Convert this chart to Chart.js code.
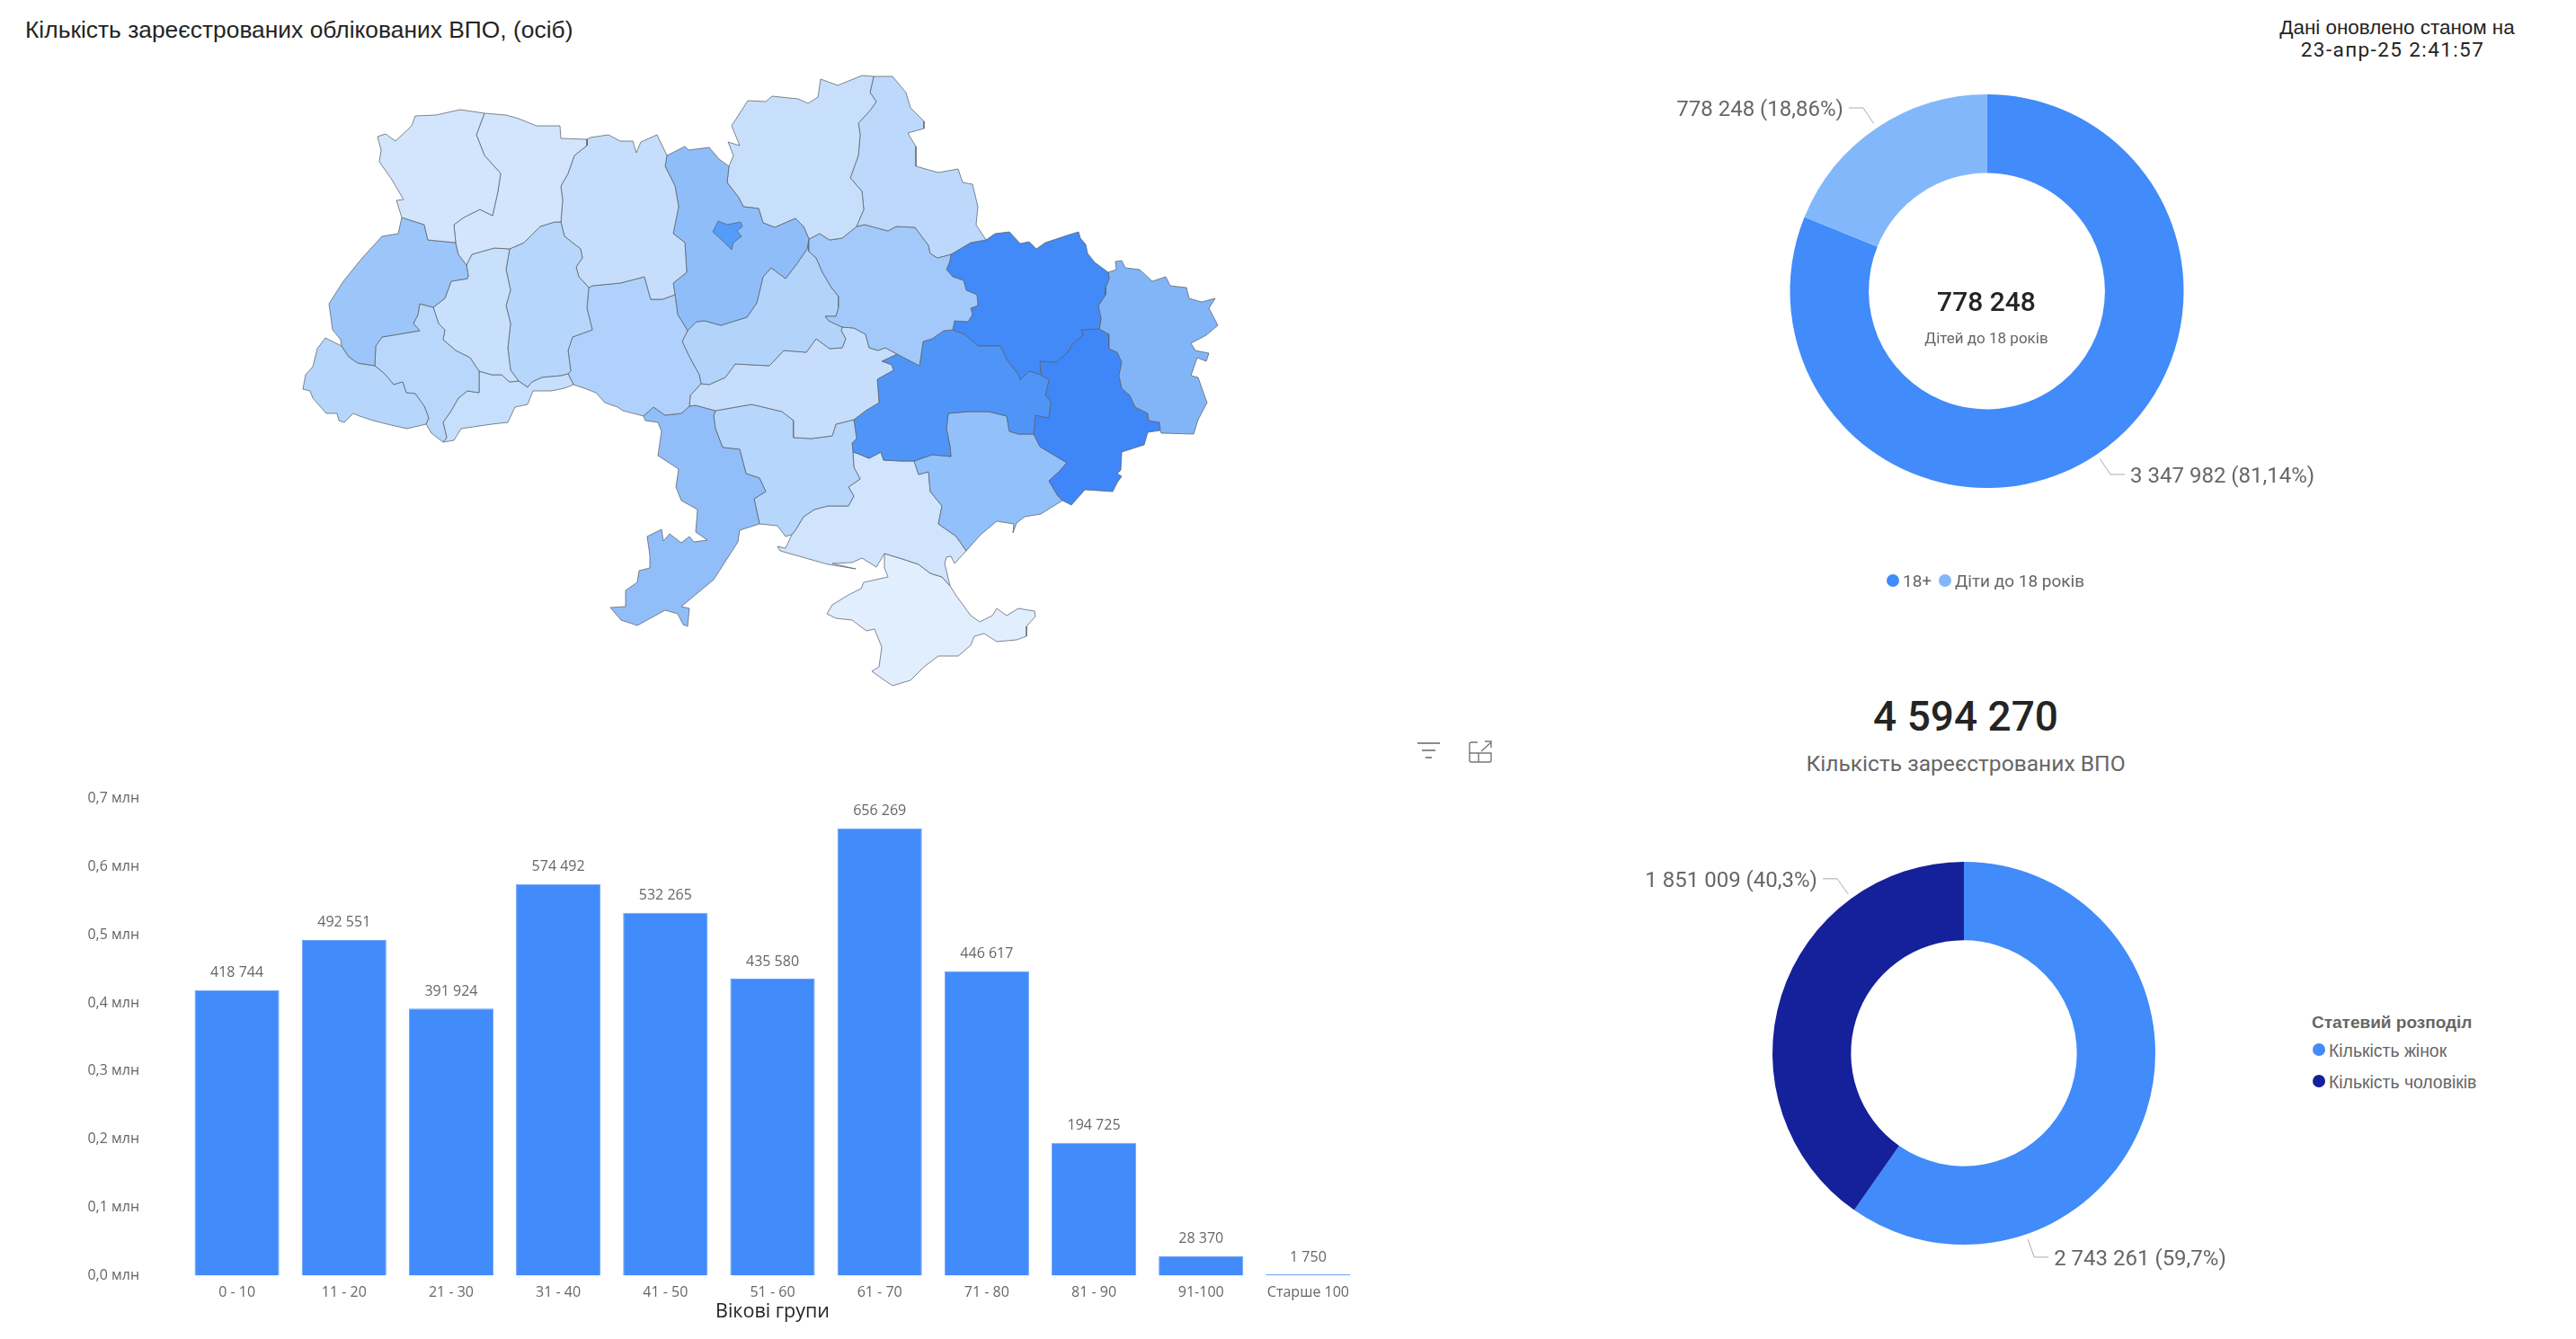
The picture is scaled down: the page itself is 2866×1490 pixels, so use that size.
<!DOCTYPE html>
<html lang="uk">
<head>
<meta charset="utf-8">
<title>Кількість зареєстрованих облікованих ВПО</title>
<script src="https://cdn.jsdelivr.net/npm/chart.js@4"></script>
<style>
  html, body { margin: 0; padding: 0; background: #fff; }
  body { position: relative; width: 2866px; height: 1490px; overflow: hidden; font-family: Roboto, sans-serif; color: #666; }
  canvas { position: absolute; }
  .txt { position: absolute; white-space: nowrap; line-height: 1; }
  .mid { transform: translate(-50%, -50%); }
  .left { transform: translateY(-50%); }
  .dot { position: absolute; width: 14px; height: 14px; border-radius: 50%; transform: translate(-50%, -50%); }
  svg { position: absolute; }
</style>
</head>
<body>
<div class="txt left" style="left:28px;top:33px;font:26.4px 'Liberation Sans';color:#252423">Кількість зареєстрованих облікованих ВПО, (осіб)</div>
<div class="txt mid" style="left:2667px;top:31px;font:22.4px 'Liberation Sans';color:#252423">Дані оновлено станом на</div>
<div class="txt mid" style="left:2662px;top:55px;font:22.5px Roboto;letter-spacing:1.4px;color:#252423">23-апр-25 2:41:57</div>

<canvas id="map" style="left:320px;top:60px"></canvas>
<canvas id="bars" style="left:60px;top:830px"></canvas>
<canvas id="ageDonut" style="left:1840px;top:60px"></canvas>
<canvas id="sexDonut" style="left:1800px;top:900px"></canvas>

<div class="txt mid" style="left:2210px;top:335px;font:500 30px Roboto;color:#252423">778 248</div>
<div class="txt mid" style="left:2210px;top:376px;font:17px Roboto;color:#666">Дітей до 18 років</div>
<span class="dot" style="left:2106px;top:646px;background:#418bfa"></span>
<div class="txt left" style="left:2117px;top:646px;font:19px Roboto">18+</div>
<span class="dot" style="left:2164px;top:646px;background:#82b8fb"></span>
<div class="txt left" style="left:2175px;top:646px;font:19px Roboto">Діти до 18 років</div>

<div class="txt mid" style="left:2187px;top:797px;font:500 46px Roboto;color:#252423">4 594 270</div>
<div class="txt mid" style="left:2187px;top:849px;font:24.6px Roboto;color:#666">Кількість зареєстрованих ВПО</div>

<svg style="left:1575px;top:824px" width="30" height="24" fill="none" stroke="#666" stroke-width="1.6">
  <path d="M2 3H27M7 11H22M11 19H18"/>
</svg>
<svg style="left:1633px;top:823px" width="28" height="28" fill="none" stroke="#777" stroke-width="1.4">
  <path d="M11 3H4a2 2 0 0 0-2 2v18a2 2 0 0 0 2 2h20a2 2 0 0 0 2-2V15H2M12 25V15M15 13 26 3M19 2h7v7"/>
</svg>

<div class="txt left" style="left:2572px;top:1138px;font:bold 19px 'Liberation Sans'">Статевий розподіл</div>
<span class="dot" style="left:2580px;top:1168px;background:#418bfa"></span>
<div class="txt left" style="left:2591px;top:1169px;font:19.4px 'Liberation Sans'">Кількість жінок</div>
<span class="dot" style="left:2580px;top:1203px;background:#15219a"></span>
<div class="txt left" style="left:2591px;top:1204px;font:19.4px 'Liberation Sans'">Кількість чоловіків</div>

<script>
// age chart
const ageGroups = ['0 - 10', '11 - 20', '21 - 30', '31 - 40', '41 - 50', '51 - 60', '61 - 70', '71 - 80', '81 - 90', '91-100', 'Старше 100'];
const ageCounts = [418744, 492551, 391924, 574492, 532265, 435580, 656269, 446617, 194725, 28370, 1750];
const ageTicks = ['0,0 млн', '0,1 млн', '0,2 млн', '0,3 млн', '0,4 млн', '0,5 млн', '0,6 млн', '0,7 млн'];

// donuts
const ageSplitLabels = ['18+', 'Діти до 18 років'];
const ageSplitValues = [3347982, 778248];
const ageSplitText = ['3 347 982 (81,14%)', '778 248 (18,86%)'];
const sexLabels = ['Кількість жінок', 'Кількість чоловіків'];
const sexValues = [2743261, 1851009];
const sexText = ['2 743 261 (59,7%)', '1 851 009 (40,3%)'];

// map borders, each one shared by the two oblasts it separates
const volynRivne = [[539,126],[530,150],[539,173],[557,193],[554,213],[548,240],[534,233],[516,242],[505,250],[507,270]];
const volynLviv = [[507,270],[476,267],[472,250],[447,242]];
const volynOuter = [[447,242],[441,223],[449,222],[436,200],[422,180],[424,167],[420,152],[429,149],[440,157],[458,140],[462,129],[485,128],[512,122],[539,126]];
const rivneNorth = [[539,126],[563,128],[577,132],[597,140],[623,140],[624,154],[653,155]];
const rivneZhyt = [[653,155],[653,162],[639,173],[632,193],[624,207],[626,223],[624,247]];
const rivneKhm = [[624,247],[617,247],[601,252],[583,270],[567,277]];
const rivneTern = [[567,277],[550,276],[525,283],[519,295]];
const rivneLviv = [[519,295],[510,283],[507,270]];
const lvivWest = [[447,242],[443,260],[425,263],[403,287],[382,313],[366,338],[370,367],[379,378],[380,385]];
const lvivZak = [[380,385],[388,397],[398,404],[417,407]];
const lvivIF = [[417,407],[418,385],[425,375],[443,372],[467,368],[460,360],[465,350],[467,338],[482,342]];
const lvivTern = [[482,342],[495,332],[502,313],[520,310],[521,307],[519,295]];
const zakIF = [[417,407],[427,415],[438,428],[448,425],[452,437],[462,438],[472,452],[477,465],[474,472]];
const zakOuter = [[474,472],[453,477],[435,473],[415,468],[400,463],[393,460],[383,470],[377,468],[375,460],[363,460],[348,443],[345,435],[337,433],[340,417],[348,408],[353,388],[362,376],[380,385]];
const ifOuter = [[474,472],[480,482],[493,492]];
const ifChern = [[493,492],[497,487],[493,470],[502,457],[510,443],[520,435],[533,437],[533,413]];
const ifTern = [[533,413],[523,398],[507,390],[493,378],[495,367],[488,360],[482,342]];
const ternChern = [[533,413],[547,417],[558,417],[567,425],[577,424]];
const ternKhm = [[577,424],[568,412],[565,387],[568,360],[563,340],[568,323],[563,300],[567,277]];
const chernKhm = [[577,424],[587,431],[592,425],[603,420],[625,418],[632,416]];
const chernOuter = [[632,416],[638,428],[628,432],[613,435],[593,435],[587,450],[573,453],[565,470],[547,472],[513,477],[505,490],[493,492]];
const khmVinn = [[632,416],[635,413],[632,390],[637,375],[659,367],[653,343],[655,320]];
const khmZhyt = [[655,320],[644,308],[641,297],[648,287],[646,277],[628,263],[624,247]];
const zhytVinn = [[655,320],[659,318],[690,315],[717,308],[724,333],[737,333],[751,328]];
const zhytKyiv = [[751,328],[749,315],[764,303],[762,270],[749,260],[755,230],[751,207],[740,185],[742,173]];
const zhytNorth = [[742,173],[731,150],[713,158],[708,170],[704,157],[690,157],[677,150],[657,153],[653,155]];
const kyivVinn = [[765,368],[754,350],[751,328]];
const kyivNorth = [[742,173],[762,163],[766,167],[789,164],[800,177],[811,185]];
const kyivChernihiv = [[811,185],[809,203],[822,220],[827,230],[844,232],[849,248],[862,253],[885,243],[894,252],[900,266]];
const kyivCherk = [[900,266],[898,277],[887,293],[874,310],[858,298],[849,308],[842,337],[831,353],[802,362],[784,357],[775,358],[765,368]];
const chernihivOuter = [[811,185],[816,173],[810,158],[823,162],[814,140],[832,112],[852,113],[859,107],[888,110],[899,115],[910,108],[913,88],[932,95],[959,84],[972,85]];
const chernihivSumy = [[972,85],[968,103],[975,113],[968,123],[955,137],[957,150],[955,173],[946,198],[959,213],[961,233],[953,252]];
const chernihivPoltava = [[953,252],[937,265],[923,267],[912,260],[900,266]];
const sumyOuter = [[972,85],[993,85],[1008,103],[1013,120],[1028,135],[1028,143],[1010,148],[1019,163],[1019,185],[1044,192],[1066,188],[1071,203],[1082,205],[1088,230],[1086,250],[1097,267]];
const sumyKharkiv = [[1097,267],[1080,270],[1058,283]];
const sumyPoltava = [[1058,283],[1043,287],[1035,282],[1033,273],[1018,253],[997,252],[988,257],[962,250],[953,252]];
const poltavaKharkiv = [[1058,283],[1057,290],[1053,300],[1060,308],[1072,312],[1075,323],[1087,328],[1088,340],[1080,343],[1082,350],[1077,358],[1062,357],[1060,367]];
const poltavaDnipro = [[1060,367],[1050,368],[1037,377],[1027,380],[1023,407],[998,394]];
const poltavaKirov = [[998,394],[985,387],[977,390],[967,387],[963,372],[950,365],[937,364]];
const poltavaCherk = [[937,364],[922,357],[918,352],[930,352],[933,342],[933,330],[925,320],[915,303],[908,287],[900,280],[900,266]];
const cherkKirov = [[937,364],[936,368],[941,377],[937,387],[923,388],[908,377],[897,392],[872,390],[856,407],[818,405],[807,420],[789,428],[780,427]];
const cherkVinn = [[780,427],[778,417],[767,397],[759,380],[765,368]];
const vinnKirov = [[780,427],[768,440],[767,452]];
const vinnOdesa = [[767,452],[758,460],[740,462],[727,453],[716,463]];
const vinnOuter = [[716,463],[693,457],[687,453],[673,448],[663,437],[650,432],[638,428],[632,416]];
const kirovOdesa = [[767,452],[774,451],[796,457]];
const kirovMyk = [[796,457],[819,453],[836,450],[845,452],[870,458],[883,468],[883,487],[903,488],[926,485],[930,472],[950,467]];
const kirovDnipro = [[950,467],[963,457],[978,448],[976,422],[994,412],[992,406],[981,402],[998,394]];
const odesaMyk = [[796,457],[794,463],[796,477],[804,498],[823,500],[830,527],[845,532],[852,547],[839,555],[845,583]];
const odesaCoast = [[845,583],[823,590],[821,603],[794,645],[758,675],[767,677],[765,697],[760,695],[754,683],[740,679],[720,690],[709,696],[691,690],[679,676],[696,675],[696,657],[709,648],[711,635],[723,632],[723,618],[720,597],[736,589],[738,602],[745,594],[758,604],[767,597],[772,603],[787,601],[774,592],[776,567],[758,557],[752,542],[755,522],[732,507],[736,480],[732,470],[718,468],[716,463]];
const mykDnipro = [[950,467],[953,488],[948,493],[949,503]];
const mykKherson = [[949,503],[950,520],[957,533],[944,542],[950,552],[944,563],[921,563],[906,567],[894,575],[885,590],[881,595]];
const mykCoast = [[881,595],[874,597],[865,585],[845,583]];
const dniproKherson = [[949,503],[955,505],[967,510],[980,503],[983,512],[1003,513],[1017,513]];
const dniproZap = [[1017,513],[1037,506],[1058,508],[1057,497],[1053,477],[1055,460],[1077,458],[1100,458],[1120,463],[1123,480],[1133,483],[1150,483]];
const dniproDonetsk = [[1150,483],[1152,462],[1167,465],[1169,447],[1163,440],[1167,423],[1158,417]];
const dniproKharkiv = [[1158,417],[1145,413],[1135,423],[1133,417],[1120,400],[1113,385],[1088,385],[1073,372],[1060,367]];
const kharkivDonetsk = [[1223,366],[1203,367],[1205,373],[1193,383],[1187,393],[1175,403],[1157,402],[1158,417]];
const kharkivOuter = [[1097,267],[1107,260],[1123,258],[1135,271],[1145,269],[1153,277],[1163,270],[1187,262],[1200,258],[1202,265],[1208,272],[1210,282],[1218,292],[1233,303]];
const kharkivLuhansk = [[1233,303],[1234,310],[1230,320],[1230,328],[1222,340],[1225,355],[1223,366]];
const luhanskOuter = [[1233,303],[1242,300],[1241,291],[1248,290],[1252,298],[1268,300],[1282,313],[1297,308],[1302,318],[1320,320],[1323,332],[1337,336],[1352,332],[1345,343],[1355,362],[1342,373],[1325,382],[1330,390],[1345,393],[1342,402],[1332,398],[1325,418],[1333,420],[1340,440],[1343,448],[1333,467],[1328,483],[1292,482],[1291,479]];
const luhanskDonetsk = [[1291,479],[1290,470],[1278,468],[1277,460],[1263,453],[1257,440],[1248,432],[1245,418],[1248,403],[1243,392],[1234,388],[1234,372],[1223,366]];
const donetskOuter = [[1291,479],[1277,481],[1273,495],[1248,503],[1247,523],[1243,527],[1248,530],[1243,537],[1238,547],[1207,545],[1192,562],[1182,557]];
const donetskZap = [[1182,557],[1177,552],[1167,535],[1178,525],[1187,515],[1167,503],[1157,497],[1150,483]];
const zapCoast = [[1182,557],[1158,572],[1140,575],[1131,582],[1127,593],[1128,583],[1109,580],[1091,595],[1075,613]];
const zapKherson = [[1075,613],[1064,597],[1044,583],[1048,563],[1035,547],[1033,525],[1022,528],[1017,513]];
const khersonEast = [[1075,613],[1062,627],[1058,619],[1053,620],[1051,627],[1057,652]];
const crimeaNorth = [[1057,652],[1048,642],[1035,638],[1022,628],[1004,622],[984,616]];
const khersonWest = [[984,616],[975,631],[959,621],[948,626],[926,627],[952,633],[921,628],[868,613],[865,608],[874,610],[881,595]];
const crimeaCoast = [[1057,652],[1064,663],[1080,685],[1090,692],[1104,685],[1109,677],[1120,685],[1133,677],[1151,680],[1152,686],[1142,697],[1142,708],[1131,712],[1109,714],[1095,705],[1084,708],[1080,718],[1066,730],[1044,730],[1028,742],[1013,757],[993,763],[984,757],[970,747],[978,742],[981,720],[973,700],[964,702],[948,690],[930,688],[920,683],[926,673],[944,662],[958,655],[961,648],[988,642],[984,632],[984,616]];
const kyivCity = [[793,258],[799,246],[809,250],[824,247],[826,252],[820,257],[825,263],[816,270],[814,278],[804,268],[793,258]];

const back = arc => [...arc].reverse();
const ring = (...arcs) => arcs.flat();

const regionNames = ['Київ', 'Волинська', 'Рівненська', 'Львівська', 'Закарпатська', 'Івано-Франківська', 'Тернопільська', 'Чернівецька', 'Хмельницька', 'Житомирська', 'Вінницька', 'Київська', 'Чернігівська', 'Сумська', 'Полтавська', 'Черкаська', 'Кіровоградська', 'Одеська', 'Миколаївська', 'Дніпропетровська', 'Харківська', 'Луганська', 'Донецька', 'Запорізька', 'Херсонська', 'Крим'];
const regionOutlines = [
  kyivCity,
  ring(volynRivne, volynLviv, volynOuter),
  ring(rivneNorth, rivneZhyt, rivneKhm, rivneTern, rivneLviv, back(volynRivne)),
  ring(lvivWest, lvivZak, lvivIF, lvivTern, rivneLviv, volynLviv),
  ring(zakIF, zakOuter, lvivZak),
  ring(back(lvivIF), zakIF, ifOuter, ifChern, ifTern),
  ring(back(lvivTern), back(ifTern), ternChern, ternKhm, rivneTern),
  ring(ternChern, chernKhm, chernOuter, ifChern),
  ring(back(ternKhm), chernKhm, khmVinn, khmZhyt, rivneKhm),
  ring(zhytNorth, rivneZhyt, back(khmZhyt), zhytVinn, zhytKyiv),
  ring(zhytVinn, back(kyivVinn), back(cherkVinn), vinnKirov, vinnOdesa, vinnOuter, khmVinn),
  ring(kyivNorth, kyivChernihiv, kyivCherk, kyivVinn, zhytKyiv),
  ring(chernihivOuter, chernihivSumy, chernihivPoltava, back(kyivChernihiv)),
  ring(sumyOuter, sumyKharkiv, sumyPoltava, back(chernihivSumy)),
  ring(back(chernihivPoltava), back(sumyPoltava), poltavaKharkiv, poltavaDnipro, poltavaKirov, poltavaCherk),
  ring(back(kyivCherk), back(poltavaCherk), cherkKirov, cherkVinn),
  ring(back(cherkKirov), back(poltavaKirov), back(kirovDnipro), back(kirovMyk), back(kirovOdesa), back(vinnKirov)),
  ring(kirovOdesa, odesaMyk, odesaCoast, back(vinnOdesa)),
  ring(kirovMyk, mykDnipro, mykKherson, mykCoast, back(odesaMyk)),
  ring(kirovDnipro, back(poltavaDnipro), back(dniproKharkiv), back(dniproDonetsk), back(dniproZap), back(dniproKherson), back(mykDnipro)),
  ring(kharkivOuter, kharkivLuhansk, kharkivDonetsk, dniproKharkiv, back(poltavaKharkiv), back(sumyKharkiv)),
  ring(luhanskOuter, luhanskDonetsk, back(kharkivLuhansk)),
  ring(back(kharkivDonetsk), back(luhanskDonetsk), donetskOuter, donetskZap, dniproDonetsk),
  ring(dniproZap, back(donetskZap), zapCoast, zapKherson),
  ring(dniproKherson, back(zapKherson), khersonEast, crimeaNorth, khersonWest, back(mykKherson)),
  ring(crimeaCoast, back(crimeaNorth))
];
const regionColors = ['#559bf9', '#d2e5fd', '#d2e5fd', '#9cc6f9', '#b6d6fb', '#b9d7fb', '#c9e0fc', '#c6dffc', '#b6d6fb', '#c6defb', '#afd1fb', '#8fbdf9', '#c8dffc', '#bcd9fc', '#a2c9f9', '#b2d4fb', '#c6defc', '#91bef9', '#b6d6fb', '#4e95f7', '#418af8', '#82b5f7', '#3f87f8', '#92c0fa', '#d0e4fe', '#e1eefe'];

Chart.defaults.animation = false;
Chart.defaults.responsive = false;
Chart.defaults.plugins.legend.display = false;
Chart.defaults.plugins.tooltip.enabled = false;

function sized(id, w, h) {
  const c = document.getElementById(id);
  c.width = w; c.height = h;
  c.style.width = w + 'px'; c.style.height = h + 'px';
  return c.getContext('2d');
}

// line datasets only stroke, so the polygon fill goes in under each one
const fillRegions = {
  id: 'fillRegions',
  beforeDatasetDraw(chart, args) {
    const pts = chart.getDatasetMeta(args.index).data;
    const ctx = chart.ctx;
    ctx.save();
    ctx.beginPath();
    pts.forEach((p, i) => i ? ctx.lineTo(p.x, p.y) : ctx.moveTo(p.x, p.y));
    ctx.closePath();
    ctx.fillStyle = chart.data.datasets[args.index].backgroundColor;
    ctx.fill();
    ctx.restore();
  }
};

new Chart(sized('map', 1060, 740), {
  type: 'scatter',
  data: {
    datasets: regionOutlines.map((outline, i) => ({
      label: regionNames[i],
      data: outline.map(([x, y]) => ({ x, y })),
      showLine: true,
      tension: 0,
      pointRadius: 0,
      borderWidth: 1,
      borderColor: 'rgba(90,96,106,0.75)',
      backgroundColor: regionColors[i]
    }))
  },
  options: {
    layout: { padding: 0 },
    scales: {
      x: { type: 'linear', display: false, min: 320, max: 1380 },
      y: { type: 'linear', display: false, min: 60, max: 800, reverse: true }
    }
  },
  plugins: [fillRegions]
});

const barValueLabels = {
  id: 'barValueLabels',
  afterDatasetsDraw(chart) {
    const ctx = chart.ctx;
    ctx.save();
    ctx.font = '16px "Open Sans"';
    ctx.fillStyle = '#666';
    ctx.textAlign = 'center';
    ctx.textBaseline = 'middle';
    chart.getDatasetMeta(0).data.forEach((bar, i) => {
      const text = String(ageCounts[i]).replace(/\B(?=(\d{3})+$)/g, ' ');
      ctx.fillText(text, bar.x, bar.y - 19);
    });
    ctx.restore();
  }
};

new Chart(sized('bars', 1500, 648), {
  type: 'bar',
  data: {
    labels: ageGroups,
    datasets: [{
      label: 'Кількість',
      data: ageCounts,
      backgroundColor: '#418bfa',
      borderColor: '#6ea3fa',
      borderWidth: 1,
      categoryPercentage: 1,
      barPercentage: 0.79
    }]
  },
  options: {
    layout: { padding: { top: 0, right: 45, bottom: 0, left: 0 } },
    scales: {
      x: {
        grid: { display: false, drawTicks: false },
        border: { display: false },
        ticks: { color: '#666', font: { family: 'Open Sans', size: 16 }, padding: 9, maxRotation: 0, autoSkip: false },
        title: { display: true, text: 'Вікові групи', color: '#252423', font: { family: 'Open Sans', size: 21.5 }, padding: 0 },
        afterFit: s => { s.height = 53; }
      },
      y: {
        min: 0,
        max: 700000,
        grid: { display: false, drawTicks: false },
        border: { display: false },
        ticks: {
          stepSize: 100000,
          color: '#666',
          font: { family: 'Open Sans', size: 16 },
          padding: 49,
          callback: (v, i) => ageTicks[i]
        },
        afterFit: s => { s.width = 144; }
      }
    }
  },
  plugins: [barValueLabels]
});

// leader line and its label, at an angle given per slice
const leaderLabels = {
  id: 'leaderLabels',
  afterDatasetsDraw(chart, args, opts) {
    const ctx = chart.ctx;
    const arc = chart.getDatasetMeta(0).data[0];
    ctx.save();
    ctx.font = opts.font;
    ctx.textBaseline = 'middle';
    opts.texts.forEach((text, i) => {
      const a = opts.angles[i] * Math.PI / 180;
      const dir = Math.cos(a) >= 0 ? 1 : -1;
      const x0 = arc.x + (arc.outerRadius + 6) * Math.cos(a);
      const y0 = arc.y + (arc.outerRadius + 6) * Math.sin(a);
      const x1 = arc.x + (arc.outerRadius + 27) * Math.cos(a);
      const y1 = arc.y + (arc.outerRadius + 27) * Math.sin(a);
      ctx.strokeStyle = '#aaa';
      ctx.lineWidth = 1;
      ctx.beginPath();
      ctx.moveTo(x0, y0);
      ctx.lineTo(x1, y1);
      ctx.lineTo(x1 + dir * 16, y1);
      ctx.stroke();
      ctx.fillStyle = '#666';
      ctx.textAlign = dir > 0 ? 'left' : 'right';
      ctx.fillText(text, x1 + dir * 22, y1 + 3);
    });
    ctx.restore();
  }
};

new Chart(sized('ageDonut', 760, 580), {
  type: 'doughnut',
  data: {
    labels: ageSplitLabels,
    datasets: [{ data: ageSplitValues, backgroundColor: ['#418bfa', '#82b8fb'], borderWidth: 0 }]
  },
  options: {
    cutout: '60%',
    layout: { padding: { left: 151.5, right: 170.5, top: 45, bottom: 97 } },
    plugins: { leaderLabels: { texts: ageSplitText, angles: [56, -124], font: '24px Roboto' } }
  },
  plugins: [leaderLabels]
});

new Chart(sized('sexDonut', 760, 540), {
  type: 'doughnut',
  data: {
    labels: sexLabels,
    datasets: [{ data: sexValues, backgroundColor: ['#418bfa', '#15219a'], borderWidth: 0 }]
  },
  options: {
    cutout: '59%',
    layout: { padding: { left: 172, right: 162, top: 59, bottom: 55 } },
    plugins: { leaderLabels: { texts: sexText, angles: [71, -126], font: '24px Roboto' } }
  },
  plugins: [leaderLabels]
});
</script>
</body>
</html>
